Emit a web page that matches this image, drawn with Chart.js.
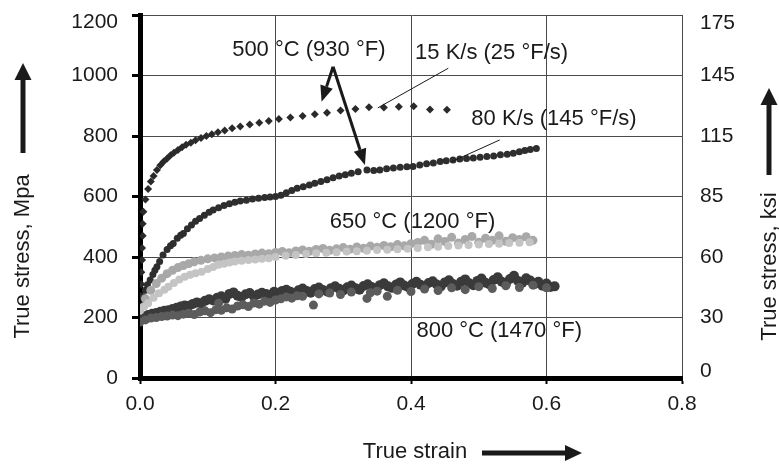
<!DOCTYPE html>
<html>
<head>
<meta charset="utf-8">
<title>True stress vs true strain</title>
<script src="https://cdn.jsdelivr.net/npm/chart.js@4/dist/chart.umd.min.js"></script>
<style>
  html, body { margin: 0; padding: 0; background: #ffffff; }
  #wrap { width: 779px; height: 467px; }
</style>
</head>
<body>
<div id="wrap"><canvas id="c" width="779" height="467"></canvas></div>
<script>
// Axis tick labels
const strainTicks = ['0.0', '0.2', '0.4', '0.6', '0.8'];
const mpaTicks = ['0', '200', '400', '600', '800', '1000', '1200'];
const ksiTicks = ['0', '30', '60', '85', '115', '145', '175'];

// 500 °C, 15 K/s
const strain500slow = [0.000, 0.001, 0.001, 0.002, 0.002, 0.003, 0.003, 0.004, 0.004, 0.005, 0.008, 0.012, 0.016, 0.020, 0.025, 0.030, 0.035, 0.040, 0.045, 0.050, 0.056, 0.062, 0.068, 0.075, 0.082, 0.090, 0.098, 0.106, 0.115, 0.125, 0.136, 0.148, 0.162, 0.176, 0.190, 0.205, 0.222, 0.240, 0.258, 0.276, 0.296, 0.318, 0.338, 0.360, 0.382, 0.404, 0.428, 0.453];
const stress500slow = [200, 235, 270, 310, 350, 390, 430, 470, 510, 550, 590, 625, 650, 668, 688, 703, 716, 726, 736, 745, 754, 763, 771, 778, 786, 793, 800, 806, 812, 818, 826, 831, 838, 844, 850, 856, 861, 866, 872, 877, 884, 889, 895, 894, 897, 898, 888, 887];

// 500 °C, 80 K/s
const strain500fast = [0.001, 0.003, 0.005, 0.008, 0.011, 0.015, 0.019, 0.022, 0.025, 0.029, 0.034, 0.040, 0.045, 0.049, 0.055, 0.060, 0.064, 0.070, 0.076, 0.082, 0.088, 0.095, 0.102, 0.108, 0.116, 0.124, 0.132, 0.140, 0.148, 0.157, 0.166, 0.175, 0.184, 0.192, 0.200, 0.208, 0.216, 0.224, 0.232, 0.241, 0.250, 0.258, 0.267, 0.276, 0.285, 0.294, 0.303, 0.312, 0.322, 0.335, 0.345, 0.354, 0.364, 0.374, 0.384, 0.394, 0.403, 0.413, 0.423, 0.433, 0.443, 0.452, 0.462, 0.472, 0.482, 0.492, 0.502, 0.512, 0.522, 0.532, 0.542, 0.551, 0.560, 0.568, 0.576, 0.585];
const stress500fast = [212, 240, 269, 290, 308, 324, 342, 356, 368, 385, 407, 425, 437, 445, 462, 472, 478, 493, 506, 518, 527, 538, 548, 555, 563, 570, 576, 581, 585, 588, 592, 594, 597, 598, 600, 604, 612, 620, 627, 632, 638, 644, 650, 655, 662, 668, 672, 677, 682, 688, 686, 688, 692, 694, 697, 698, 699, 704, 708, 711, 716, 718, 721, 724, 726, 727, 730, 732, 734, 738, 740, 743, 748, 752, 755, 759];

// 650 °C, upper band
const strain650a = [0.000, 0.008, 0.016, 0.024, 0.032, 0.040, 0.048, 0.056, 0.064, 0.072, 0.080, 0.090, 0.100, 0.110, 0.120, 0.130, 0.140, 0.150, 0.160, 0.170, 0.180, 0.190, 0.200, 0.210, 0.220, 0.230, 0.240, 0.250, 0.260, 0.270, 0.280, 0.290, 0.300, 0.310, 0.320, 0.330, 0.340, 0.350, 0.360, 0.370, 0.380, 0.390, 0.400, 0.410, 0.420, 0.430, 0.440, 0.450, 0.460, 0.470, 0.480, 0.490, 0.500, 0.510, 0.520, 0.530, 0.540, 0.550, 0.560, 0.570, 0.580];
const stress650a = [230, 262, 290, 312, 330, 345, 356, 365, 372, 378, 384, 389, 394, 397, 400, 403, 405, 408, 406, 410, 413, 411, 415, 418, 414, 420, 423, 419, 425, 428, 422, 427, 431, 426, 433, 429, 436, 432, 438, 434, 441, 437, 444, 448, 455, 442, 460, 451, 465, 446, 458, 468, 449, 462, 455, 470, 452, 464, 458, 467, 455];

// 650 °C, lower band
const strain650b = [0.000, 0.006, 0.012, 0.020, 0.028, 0.036, 0.042, 0.050, 0.058, 0.066, 0.074, 0.082, 0.091, 0.100, 0.108, 0.116, 0.124, 0.132, 0.140, 0.150, 0.160, 0.170, 0.180, 0.190, 0.200, 0.215, 0.230, 0.245, 0.260, 0.275, 0.290, 0.305, 0.320, 0.335, 0.350, 0.365, 0.380, 0.395, 0.410, 0.425, 0.440, 0.455, 0.470, 0.485, 0.500, 0.515, 0.530, 0.545, 0.560, 0.575];
const stress650b = [222, 236, 247, 265, 280, 292, 302, 314, 326, 335, 341, 346, 351, 360, 367, 374, 378, 382, 385, 388, 390, 392, 394, 396, 400, 404, 407, 410, 412, 414, 416, 418, 419, 421, 423, 424, 426, 427, 430, 432, 434, 436, 438, 440, 441, 443, 444, 446, 447, 449];

// 800 °C, dark band
const strain800a = [0.000, 0.006, 0.012, 0.018, 0.024, 0.030, 0.036, 0.042, 0.048, 0.054, 0.060, 0.066, 0.072, 0.078, 0.084, 0.090, 0.096, 0.102, 0.108, 0.114, 0.120, 0.126, 0.132, 0.138, 0.144, 0.150, 0.156, 0.162, 0.168, 0.174, 0.180, 0.186, 0.192, 0.198, 0.204, 0.210, 0.216, 0.222, 0.228, 0.234, 0.240, 0.246, 0.252, 0.258, 0.264, 0.270, 0.276, 0.282, 0.288, 0.294, 0.300, 0.306, 0.312, 0.318, 0.324, 0.330, 0.336, 0.342, 0.348, 0.354, 0.360, 0.366, 0.372, 0.378, 0.384, 0.390, 0.396, 0.402, 0.408, 0.414, 0.420, 0.426, 0.432, 0.438, 0.444, 0.450, 0.456, 0.462, 0.468, 0.474, 0.480, 0.486, 0.492, 0.498, 0.504, 0.510, 0.516, 0.522, 0.528, 0.534, 0.540, 0.546, 0.552, 0.558, 0.564, 0.570, 0.576, 0.582, 0.588, 0.594, 0.600, 0.606, 0.612];
const stress800a = [198, 203, 208, 212, 215, 219, 222, 224, 228, 232, 236, 240, 238, 245, 250, 246, 255, 260, 256, 265, 270, 262, 278, 283, 272, 268, 277, 281, 270, 276, 282, 278, 274, 285, 279, 288, 292, 285, 280, 290, 296, 288, 282, 294, 299, 291, 286, 297, 303, 295, 289, 300, 306, 297, 292, 304, 310, 301, 295, 307, 313, 303, 298, 309, 316, 306, 300, 311, 318, 308, 302, 314, 320, 309, 303, 316, 323, 311, 305, 318, 326, 313, 307, 321, 329, 315, 309, 324, 333, 318, 311, 327, 338, 321, 314, 330, 322, 310, 318, 305, 312, 301, 303];

// 800 °C, medium band
const strain800b = [0.000, 0.008, 0.016, 0.024, 0.032, 0.040, 0.048, 0.056, 0.064, 0.072, 0.080, 0.088, 0.096, 0.104, 0.112, 0.116, 0.120, 0.128, 0.136, 0.144, 0.152, 0.160, 0.168, 0.176, 0.184, 0.192, 0.200, 0.208, 0.216, 0.224, 0.232, 0.240, 0.256, 0.264, 0.280, 0.296, 0.312, 0.335, 0.340, 0.350, 0.365, 0.380, 0.400, 0.420, 0.440, 0.460, 0.480, 0.500, 0.520, 0.540, 0.560, 0.580, 0.600];
const stress800b = [185, 192, 198, 200, 203, 205, 208, 206, 211, 214, 210, 218, 222, 216, 226, 247, 224, 232, 228, 238, 242, 236, 248, 244, 254, 250, 258, 262, 268, 264, 272, 270, 241, 278, 281, 276, 284, 263, 282, 287, 270, 290, 286, 294, 289, 298, 292, 302, 296, 305, 299, 307, 298];

const FONT = "'Liberation Sans', Arial, sans-serif";
const INK = '#1a1a1a';

function pts(xs, ys) { return xs.map((x, i) => ({ x: x, y: ys[i] })); }

// Text labels and arrows placed in data coordinates
const notes = [
  { text: '500 °C (930 °F)', x: 0.136, y: 1084 },
  { text: '15 K/s (25 °F/s)', x: 0.406, y: 1074 },
  { text: '80 K/s (145 °F/s)', x: 0.489, y: 856 },
  { text: '650 °C (1200 °F)', x: 0.280, y: 517 },
  { text: '800 °C (1470 °F)', x: 0.408, y: 156 }
];
const pointers = [
  { from: [0.285, 1029], to: [0.268, 913], head: true },
  { from: [0.285, 1029], to: [0.332, 704], head: true },
  { from: [0.455, 1024], to: [0.351, 893], head: false },
  { from: [0.531, 787], to: [0.460, 715], head: false }
];

function drawArrow(ctx, x1, y1, x2, y2, shaft, headLen, headW) {
  const ang = Math.atan2(y2 - y1, x2 - x1);
  const bx = x2 - headLen * Math.cos(ang);
  const by = y2 - headLen * Math.sin(ang);
  ctx.beginPath();
  ctx.lineWidth = shaft;
  ctx.lineCap = 'butt';
  ctx.moveTo(x1, y1);
  ctx.lineTo(bx, by);
  ctx.stroke();
  ctx.beginPath();
  ctx.moveTo(x2, y2);
  ctx.lineTo(bx + headW / 2 * Math.sin(ang), by - headW / 2 * Math.cos(ang));
  ctx.lineTo(bx - headW / 2 * Math.sin(ang), by + headW / 2 * Math.cos(ang));
  ctx.closePath();
  ctx.fill();
}

const decorations = {
  id: 'decorations',
  afterDraw(chart) {
    const ctx = chart.ctx;
    const xs = chart.scales.x, ys = chart.scales.y;
    const area = chart.chartArea;
    ctx.save();
    ctx.fillStyle = INK;
    ctx.strokeStyle = INK;
    ctx.font = '22px ' + FONT;
    ctx.textBaseline = 'middle';
    ctx.textAlign = 'left';
    notes.forEach(n => ctx.fillText(n.text, xs.getPixelForValue(n.x), ys.getPixelForValue(n.y)));

    pointers.forEach(p => {
      const x1 = xs.getPixelForValue(p.from[0]), y1 = ys.getPixelForValue(p.from[1]);
      const x2 = xs.getPixelForValue(p.to[0]), y2 = ys.getPixelForValue(p.to[1]);
      if (p.head) {
        drawArrow(ctx, x1, y1, x2, y2, 3, 16, 13);
      } else {
        ctx.beginPath();
        ctx.lineWidth = 1;
        ctx.moveTo(x1, y1);
        ctx.lineTo(x2, y2);
        ctx.stroke();
      }
    });

    // Axis titles with direction arrows
    const midX = (area.left + area.right) / 2;
    ctx.textAlign = 'center';
    ctx.fillText('True strain', midX + 4, area.bottom + 74);
    drawArrow(ctx, midX + 71, area.bottom + 75, midX + 171, area.bottom + 75, 5, 17, 16);

    ctx.save();
    ctx.translate(area.left - 117, (area.top + area.bottom) / 2 + 60);
    ctx.rotate(-Math.PI / 2);
    ctx.fillText('True stress, Mpa', 0, 0);
    ctx.restore();
    drawArrow(ctx, area.left - 117, area.top + 138, area.left - 117, area.top + 48, 5, 17, 17);

    ctx.save();
    ctx.translate(area.right + 88, (area.top + area.bottom) / 2 + 70);
    ctx.rotate(-Math.PI / 2);
    ctx.fillText('True stress, ksi', 0, 0);
    ctx.restore();
    drawArrow(ctx, area.right + 87, area.top + 160, area.right + 87, area.top + 73, 5, 17, 17);
    ctx.restore();
  }
};

const bg = {
  id: 'bg',
  beforeDraw(chart) {
    const ctx = chart.ctx;
    ctx.save();
    ctx.fillStyle = '#ffffff';
    ctx.fillRect(0, 0, chart.width, chart.height);
    ctx.restore();
  }
};

// Edge labels are nudged inward: an empty line before/after shifts the text
function edgeLabel(text, where) {
  if (where === 'top') return ['', text];
  if (where === 'bottom') return [text, ''];
  return text;
}
function tickFont(lineHeightFor) {
  return (c) => ({ family: FONT, size: 21, lineHeight: c.tick ? lineHeightFor(c.tick.value) : 1.2 });
}
// Edge labels sit inside the plot instead of centred on the border
function noScalePadding(s) { s.paddingTop = 0; s.paddingBottom = 0; }

new Chart(document.getElementById('c'), {
  type: 'scatter',
  data: {
    datasets: [
      { label: '650 °C lower', data: pts(strain650b, stress650b), backgroundColor: '#c4c4c4', pointRadius: 4, pointStyle: 'circle', borderWidth: 0 },
      { label: '650 °C upper', data: pts(strain650a, stress650a), backgroundColor: '#a8a8a8', pointRadius: 4.5, pointStyle: 'circle', borderWidth: 0 },
      { label: '800 °C medium', data: pts(strain800b, stress800b), backgroundColor: '#5c5c5c', pointRadius: 4.5, pointStyle: 'circle', borderWidth: 0 },
      { label: '800 °C dark', data: pts(strain800a, stress800a), backgroundColor: '#3a3a3a', pointRadius: 5, pointStyle: 'circle', borderWidth: 0 },
      { label: '500 °C 80 K/s', data: pts(strain500fast, stress500fast), backgroundColor: '#2e2e2e', pointRadius: 3.5, pointStyle: 'circle', borderWidth: 0 },
      { label: '500 °C 15 K/s', data: pts(strain500slow, stress500slow), backgroundColor: '#2a2a2a', pointRadius: 4, pointStyle: 'rectRot', borderWidth: 0 }
    ]
  },
  options: {
    responsive: false,
    animation: false,
    devicePixelRatio: 1,
    layout: { padding: { top: 15, left: 0, right: 0, bottom: 0 } },
    plugins: { legend: { display: false }, tooltip: { enabled: false } },
    elements: { point: { hoverRadius: 0 } },
    scales: {
      x: {
        type: 'linear', min: 0, max: 0.8,
        ticks: {
          stepSize: 0.2, padding: 8, color: INK, font: { family: FONT, size: 21 },
          maxRotation: 0,
          callback: (v) => strainTicks[Math.round(v / 0.2)]
        },
        grid: { color: '#4a4a4a', lineWidth: 1, tickLength: 6, tickWidth: 2, tickColor: '#000' },
        border: { display: true, color: '#000', width: 5 },
        afterFit: (s) => { s.height = 89; }
      },
      y: {
        position: 'left', min: 0, max: 1200,
        ticks: {
          stepSize: 200, padding: 14, color: INK,
          font: tickFont((v) => v === 1200 ? 15 / 21 : 1.2),
          callback: (v) => edgeLabel(mpaTicks[Math.round(v / 200)], v === 1200 ? 'top' : '')
        },
        grid: { color: '#4a4a4a', lineWidth: 1, tickLength: 8, tickWidth: 3, tickColor: '#000' },
        border: { display: true, color: '#000', width: 5 },
        afterFit: (s) => { s.width = 140; noScalePadding(s); }
      },
      y2: {
        position: 'right', min: 0, max: 1200,
        ticks: {
          stepSize: 200, padding: 18, color: INK,
          font: tickFont((v) => v === 1200 ? 16 / 21 : (v === 0 ? 14 / 21 : 1.2)),
          callback: (v) => edgeLabel(ksiTicks[Math.round(v / 200)], v === 1200 ? 'top' : (v === 0 ? 'bottom' : ''))
        },
        grid: { display: false, drawTicks: false },
        border: { display: false },
        afterFit: (s) => { s.width = 97; noScalePadding(s); }
      }
    }
  },
  plugins: [bg, decorations]
});
</script>
</body>
</html>
